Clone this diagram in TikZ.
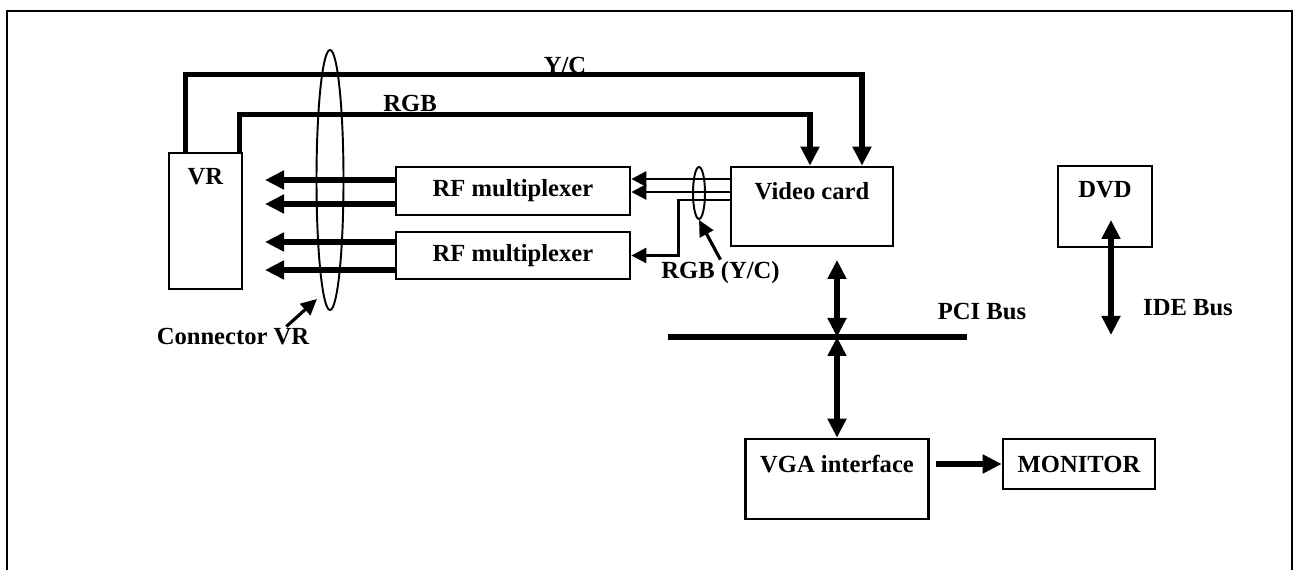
\documentclass[tikz,border=0pt]{standalone}
\usepackage{fontspec}
\setmainfont{Liberation Serif}
\usetikzlibrary{arrows.meta, positioning, shapes.geometric}
\newcommand{\lblfont}{\fontsize{14}{17}\selectfont\bfseries}

\begin{document}
\begin{tikzpicture}[>={Triangle[length=3.8mm, width=3.6mm]}, line width=1.5pt,
  box/.style={draw, line width=1.5pt, inner sep=0pt, font=\lblfont},
  ttl/.style={anchor=north, yshift=-2mm, font=\lblfont},
  ring/.style={draw, ellipse, line width=1.1pt, inner sep=0pt},
  bus/.style={line width=3.2pt},
  wire/.style={line width=1.5pt, >={Triangle[length=3mm, width=3mm]}},
  pointer/.style={line width=1.8pt, >={Triangle[length=3.2mm, width=3mm]}}]

\useasboundingbox (0,0) rectangle (25.92,11.4);

% Frame (open at the bottom)
\draw[line width=1.5pt] (0.14,0) -- (0.14,11.18) -- (25.84,11.18) -- (25.84,0);

% VR box
\node[box, minimum width=1.46cm, minimum height=2.72cm,
      label={[ttl]north:VR}] (vr) at (4.11,6.98) {};

% RF multiplexers
\node[box, minimum width=4.68cm, minimum height=0.96cm] (mux1) at (10.26,7.58) {RF multiplexer};
\node[box, minimum width=4.68cm, minimum height=0.94cm] (mux2) at (10.26,6.29) {RF multiplexer};

% Video card
\node[box, minimum width=3.24cm, minimum height=1.58cm,
      label={[ttl]north:Video card}] (video) at (16.24,7.27) {};

% DVD
\node[box, minimum width=1.88cm, minimum height=1.62cm,
      label={[ttl]north:DVD}] (dvd) at (22.10,7.27) {};

% VGA interface and monitor
\node[box, minimum width=3.66cm, minimum height=1.60cm,
      label={[ttl]north:VGA interface}] (vga) at (16.74,1.82) {};
\node[box, minimum width=3.04cm, minimum height=1.00cm] (monitor) at (21.58,2.12) {MONITOR};

% Connector rings
\node[ring, minimum width=0.54cm, minimum height=5.2cm] (vrring) at (6.60,7.80) {};
\node[ring, minimum width=0.24cm, minimum height=1.04cm] (rgbring) at (13.98,7.54) {};

% Helper points
\coordinate (vrin) at (5.30,0);
\coordinate (pcil) at (13.36,4.66);
\coordinate (pcir) at (19.34,4.66);
\coordinate (pcix) at (16.74,4.66);
\coordinate (vidport) at (16.74,6.20);
\coordinate (dvdport) at (22.22,7.00);
\coordinate (idebus) at (22.22,4.70);

% Y/C and RGB lines from VR to video card
\draw[bus, ->] ([xshift=3.6mm]vr.north west) -- ++(0,1.54) -| ([xshift=10mm]video.north);
\draw[bus, ->] ([xshift=-0.8mm]vr.north east) -- ++(0,0.74) -| ([xshift=-0.4mm]video.north);
\node[font=\lblfont] (yclbl) at (11.30,10.10) {Y/C};
\node[font=\lblfont] (rgblbl) at (8.20,9.33) {RGB};

% Multiplexer outputs
\foreach \m/\s in {mux1/2.2, mux1/-2.6, mux2/2.7, mux2/-2.9}
  \draw[bus, ->] ([yshift=\s mm]\m.west) -- ([yshift=\s mm]vrin |- \m.west);

% Video card to multiplexers
\draw[wire, ->] ([yshift=5.5mm]video.west) -- ([yshift=5.5mm]video.west -| mux1.east);
\draw[wire, ->] ([yshift=2.9mm]video.west) -- ([yshift=2.9mm]video.west -| mux1.east);
\draw[wire, ->] ([yshift=1.3mm]video.west) -- ++(-1.02,0) |- (mux2.east);

% Ring labels
\node[font=\lblfont] (conlbl) at (4.66,4.66) {Connector VR};
\draw[pointer, ->] ([xshift=-6mm, yshift=-1mm]conlbl.north east) -- ([xshift=-2.6mm, yshift=2.4mm]vrring.south);
\node[font=\lblfont] (rgbyc) at (14.41,5.94) {RGB (Y/C)};
\draw[pointer, ->] ([yshift=-1mm]rgbyc.north) -- (rgbring.south);

% PCI bus
\draw[bus] (pcil) -- (pcir);
\draw[bus, <->] (pcix) -- (vidport);
\draw[bus, <->] (pcix) -- (vga.north);
\node[font=\lblfont] (pcilbl) at (19.64,5.16) {PCI Bus};

% IDE bus
\draw[bus, <->] (dvdport) -- (idebus);
\node[font=\lblfont] (idelbl) at (23.76,5.24) {IDE Bus};

% VGA to monitor
\draw[bus, ->] ([xshift=1.2mm]vga.east |- monitor.west) -- (monitor.west);

\end{tikzpicture}
\end{document}
